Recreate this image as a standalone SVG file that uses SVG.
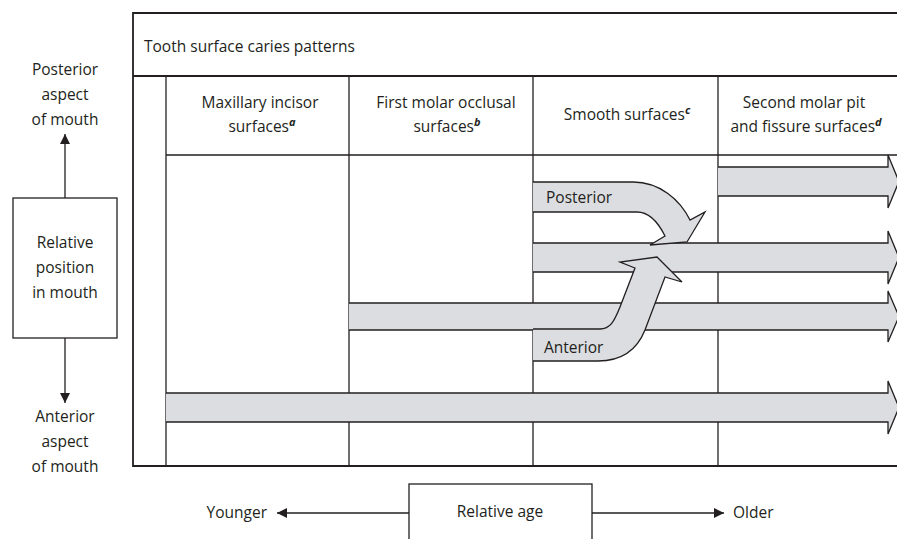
<svg xmlns="http://www.w3.org/2000/svg" width="897" height="539" viewBox="0 0 897 539">
<style>
text{font-family:"Open Sans","Noto Sans",sans-serif;font-size:15.5px;fill:#231f20}
.c{text-anchor:middle}
.ln{stroke:#231f20;stroke-width:1.3;fill:none}
.fr{stroke:#231f20;stroke-width:1.8;fill:none}
.band{fill:#dcdde0;stroke:#231f20;stroke-width:1.3;stroke-linejoin:miter}
.sup{font-size:11px;font-weight:bold;font-style:italic}
</style>
<defs>
<marker id="ah" viewBox="0 0 10 10" refX="10" refY="5" markerWidth="10" markerHeight="10" markerUnits="userSpaceOnUse" orient="auto">
<path d="M0,0 L10,5 L0,10 Z" fill="#231f20"/>
</marker>
</defs>
<rect width="897" height="539" fill="#fff"/>

<g id="table">
<path class="fr" d="M897,13 H133 V466 H897"/>
<path class="fr" d="M133,76 H897"/>
<path class="ln" d="M166,76 V466 M349,76 V466 M533,76 V466 M718,76 V466 M166,155 H897"/>
<text x="144" y="52">Tooth surface caries patterns</text>
<text class="c" x="260" y="108">Maxillary incisor</text>
<text class="c" x="262" y="132">surfaces<tspan class="sup" dy="-6">a</tspan></text>
<text class="c" x="446" y="108">First molar occlusal</text>
<text class="c" x="447" y="132">surfaces<tspan class="sup" dy="-6">b</tspan></text>
<text class="c" x="627" y="120">Smooth surfaces<tspan class="sup" dy="-6">c</tspan></text>
<text class="c" x="804" y="108">Second molar pit</text>
<text class="c" x="806" y="132">and fissure surfaces<tspan class="sup" dy="-6">d</tspan></text>
</g>

<g id="connectors">
<path class="band" d="M718,167 H888 V155 L899,181.5 L888,208 V196 H718"/>
<path class="band" d="M533,243 H888 V231 L899,257.5 L888,284 V272 H533"/>
<path class="band" d="M349,303 H888 V291 L899,316.5 L888,342 V330 H349"/>
<path class="band" d="M166,393 H888 V381 L899,407.5 L888,434 V422 H166"/>
<path class="band" d="M533,182 H633 C660,182 680,200 690,220 L705,212 L687,242 L650,245 L665,236 C658,222 648,212 637,212 H533"/>
<path class="band" d="M533,361 H598 C622,361 637,350 645,330 L665,277 L682,282 L657,257 L620,262 L635,268 L620,307 C614,322 610,329 600,329 H533"/>
<path class="ln" d="M65,198 V134" marker-end="url(#ah)"/>
<path class="ln" d="M65,338 V403" marker-end="url(#ah)"/>
<path class="ln" d="M409,513 H277" marker-end="url(#ah)"/>
<path class="ln" d="M592,513 H724" marker-end="url(#ah)"/>
<text x="546" y="203">Posterior</text>
<text x="544" y="353">Anterior</text>
</g>

<g id="position">
<rect class="ln" x="13" y="198" width="104" height="140"/>
<text class="c" x="65" y="248">Relative</text>
<text class="c" x="65" y="273">position</text>
<text class="c" x="65" y="298">in mouth</text>
</g>
<g id="posterior-label">
<text class="c" x="65" y="75">Posterior</text>
<text class="c" x="65" y="100">aspect</text>
<text class="c" x="65" y="125">of mouth</text>
</g>
<g id="anterior-label">
<text class="c" x="65" y="422">Anterior</text>
<text class="c" x="65" y="447">aspect</text>
<text class="c" x="65" y="472">of mouth</text>
</g>
<g id="age">
<rect class="ln" x="409" y="484" width="183" height="70"/>
<text class="c" x="500" y="517">Relative age</text>
</g>
<g id="younger"><text x="267" y="518" text-anchor="end">Younger</text></g>
<g id="older"><text x="733" y="518">Older</text></g>
</svg>
